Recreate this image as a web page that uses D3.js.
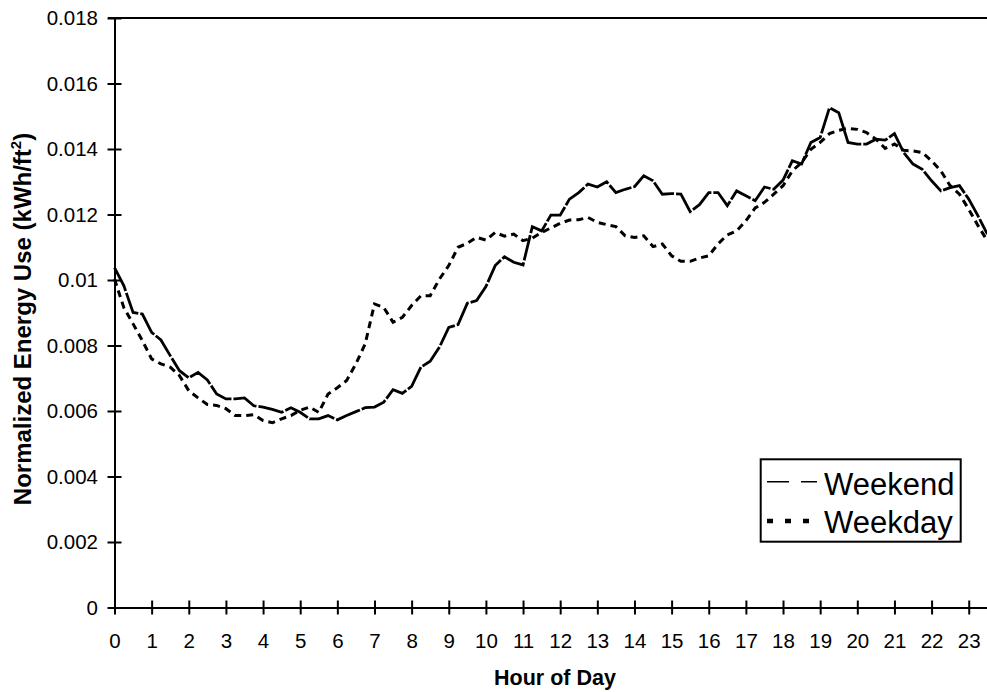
<!DOCTYPE html>
<html>
<head>
<script src="https://d3js.org/d3.v7.min.js"></script>
<style>
  body { margin: 0; background: #fff; }
  text { font-family: "Liberation Sans", Arial, sans-serif; fill: #000; }
</style>
</head>
<body>
<script>
    // quarter-hour readings, 0:00 .. 23:30
    var hourTicks = [0,1,2,3,4,5,6,7,8,9,10,11,12,13,14,15,16,17,18,19,20,21,22,23];
    var yTicks = [0,0.002,0.004,0.006,0.008,0.01,0.012,0.014,0.016,0.018];

    var weekend = [
        0.01038,0.00983,0.00901,0.00896, 0.0084,0.00817,0.00769,0.00723,
        0.00701,0.00718,0.00695,0.00652, 0.00637,0.00637,0.0064,0.00616,
        0.00612,0.00605,0.00596,0.0061,  0.00596,0.00576,0.00576,0.00586,
        0.00573,0.00586,0.00598,0.0061,  0.00612,0.00627,0.00665,0.00654,
        0.00675,0.00734,0.00752,0.00795, 0.00855,0.00864,0.00929,0.00937,
        0.0098,0.01044,0.01071,0.01054,  0.01046,0.01163,0.0115,0.01198,
        0.01198,0.01247,0.01267,0.01293, 0.01284,0.013,0.01267,0.01277,
        0.01285,0.01318,0.01303,0.01262, 0.01264,0.01262,0.01209,0.0123,
        0.01267,0.01267,0.01227,0.01272, 0.01257,0.01242,0.01284,0.01277,
        0.01305,0.01364,0.01354,0.0142,  0.01435,0.01526,0.01511,0.0142,
        0.01415,0.01415,0.0143,0.01427,  0.01447,0.01389,0.01354,0.01338,
        0.01303,0.01272,0.01282,0.01288, 0.01247,0.01196,0.0114
    ];
    var weekday = [
        0.01003,0.00916,0.00866,0.00815, 0.00759,0.00744,0.00734,0.00708,
        0.00662,0.0064,0.0062,0.00617,   0.00607,0.00586,0.00586,0.00589,
        0.00571,0.00564,0.00576,0.00586, 0.00602,0.00612,0.00596,0.00652,
        0.00671,0.00693,0.00744,0.00805, 0.00927,0.00916,0.00871,0.00886,
        0.00922,0.00952,0.00952,0.01003, 0.01044,0.011,0.01112,0.0113,
        0.01122,0.01145,0.01134,0.0114,  0.0112,0.01128,0.01145,0.01159,
        0.01173,0.01183,0.01184,0.01191, 0.01176,0.01169,0.01163,0.01135,
        0.0113,0.01135,0.01102,0.0111,   0.01074,0.01057,0.01057,0.01067,
        0.01074,0.0111,0.01138,0.0115,   0.01181,0.0122,0.01237,0.01262,
        0.01288,0.01333,0.01359,0.01399, 0.0142,0.01447,0.01457,0.01463,
        0.0146,0.0145,0.0143,0.01402,    0.01415,0.01396,0.01394,0.01389,
        0.01364,0.01333,0.01288,0.01262, 0.01216,0.01166,0.0112
    ];
    var times = weekend.map(function(d, i){ return i / 4 });

    var w = 987, h = 692;
    var x = d3.scaleLinear().domain([0, 23.5]).range([114.5, 987.3]);
    var y = d3.scaleLinear().domain([0, 0.018]).range([607.5, 18]);

    var svg = d3.select('body').append('svg')
        .attr('width', w).attr('height', h);

    // top border of plot area
    svg.append('line')
        .attr('x1', 108).attr('x2', w)
        .attr('y1', y(0.018)).attr('y2', y(0.018))
        .attr('stroke', '#000').attr('stroke-width', 2);

    var line = d3.line()
        .x(function(d, i){ return x(times[i]) })
        .y(function(d){ return y(d) });

    svg.append('path')
        .attr('d', line(weekday))
        .attr('fill', 'none').attr('stroke', '#000')
        .attr('stroke-width', 3)
        .attr('stroke-dasharray', '7,5');

    svg.append('path')
        .attr('d', line(weekend))
        .attr('fill', 'none').attr('stroke', '#000')
        .attr('stroke-width', 2.8)
        .attr('stroke-dasharray', '26,2');

    // y axis
    var yAxis = svg.append('g')
        .attr('transform', 'translate(' + x(0) + ',0)')
        .call(d3.axisLeft(y).tickValues(yTicks).tickSize(7).tickSizeOuter(0)
            .tickFormat(function(d){ return d === 0 ? '0' : String(+d.toFixed(3)) }));
    yAxis.select('.domain').attr('stroke-width', 2);
    yAxis.selectAll('.tick line').attr('x1', 7).attr('stroke-width', 2);
    yAxis.selectAll('.tick text')
        .attr('x', -16.5).attr('font-size', 20.5).attr('font-family', null);

    // x axis
    var xAxis = svg.append('g')
        .attr('transform', 'translate(0,' + y(0) + ')')
        .call(d3.axisBottom(x).tickValues(hourTicks).tickSize(7).tickSizeOuter(0)
            .tickFormat(d3.format('d')));
    xAxis.select('.domain').attr('stroke-width', 2);
    xAxis.selectAll('.tick line').attr('y1', -7).attr('stroke-width', 2);
    xAxis.selectAll('.tick text')
        .attr('y', 40.5).attr('dy', 0).attr('font-size', 20.5).attr('font-family', null);

    // axis titles
    svg.append('text')
        .attr('x', 555).attr('y', 685)
        .attr('text-anchor', 'middle')
        .attr('font-size', 21.5).attr('font-weight', 'bold')
        .text('Hour of Day');

    var yt = svg.append('text')
        .attr('transform', 'translate(31,' + 319 + ') rotate(-90)')
        .attr('text-anchor', 'middle')
        .attr('font-size', 24).attr('font-weight', 'bold');
    yt.append('tspan').text('Normalized Energy Use (kWh/ft');
    yt.append('tspan').attr('font-size', 15).attr('dy', -10).text('2');
    yt.append('tspan').attr('dy', 10).text(')');

    // legend
    var lg = svg.append('g');
    lg.append('rect')
        .attr('x', 760.7).attr('y', 459.3).attr('width', 200).attr('height', 82.4)
        .attr('fill', '#fff').attr('stroke', '#000').attr('stroke-width', 2);
    var legendItems = [
        {name: 'Weekend', dash: '22,12', width: 1.4, ly: 481.7, ty: 495},
        {name: 'Weekday', dash: '6,12', width: 4.5, ly: 521, ty: 533}
    ];
    legendItems.forEach(function(d){
        lg.append('line')
            .attr('x1', 767).attr('x2', 817)
            .attr('y1', d.ly).attr('y2', d.ly)
            .attr('stroke', '#000').attr('stroke-width', d.width)
            .attr('stroke-dasharray', d.dash);
        lg.append('text')
            .attr('x', 824).attr('y', d.ty)
            .attr('font-size', 31)
            .text(d.name);
    });
</script>
</body>
</html>
